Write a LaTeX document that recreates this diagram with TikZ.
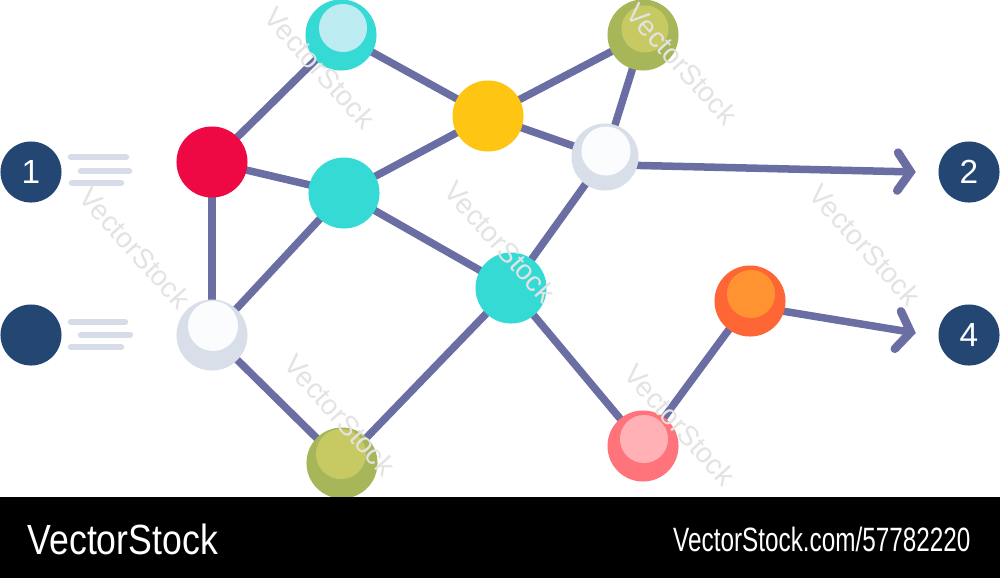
\documentclass[tikz,border=0pt]{standalone}
\usepackage{fontspec}
\setmainfont{Liberation Sans}
\usetikzlibrary{arrows.meta,calc}
\definecolor{navy}{HTML}{244673}
\definecolor{edgec}{HTML}{6A6EA3}
\definecolor{redc}{HTML}{EE0844}
\definecolor{tealc}{HTML}{36DAD5}
\definecolor{tealh}{HTML}{BDEBF2}
\definecolor{yellowc}{HTML}{FFC513}
\definecolor{olivec}{HTML}{A8B65A}
\definecolor{oliveh}{HTML}{C7CA63}
\definecolor{ringc}{HTML}{D8DFE9}
\definecolor{innerw}{HTML}{FAFCFD}
\definecolor{orangec}{HTML}{FF6636}
\definecolor{orangeh}{HTML}{FF9331}
\definecolor{pinkc}{HTML}{FF747B}
\definecolor{pinkh}{HTML}{FFB1B6}
\definecolor{dashc}{HTML}{D6DDE8}
\tikzset{
  ball/.style={circle, fill=#1, draw=none, minimum size=0.71cm, inner sep=0pt},
  numc/.style={circle, fill=navy, minimum size=0.61cm, inner sep=0pt, text=white, font=\fontsize{9.5}{10}\selectfont},
  link/.style={draw=edgec, line width=0.075cm},
  arr/.style={link, line cap=round, -{Straight Barb[length=0.13cm, width=0.38cm, line cap=round, line width=0.085cm]}},
  speed/.style={draw=dashc, line width=0.065cm, line cap=round},
  wm/.style={text=gray!22, font=\fontsize{8}{8}\selectfont, rotate=-48},
}
\begin{document}
\begin{tikzpicture}[x=0.01cm, y=-0.01cm]
\useasboundingbox (0,0) rectangle (1000,578);
\fill[white] (0,0) rectangle (1000,497);
% number circles
\node[numc] (n1) at (31,172) {1};
\node[numc] (n3) at (31,335) {};
\node[numc] (n2) at (969,172) {2};
\node[numc] (n4) at (969,335) {4};
% speed dashes
\draw[speed] (71,157) -- (126,157) (81,171) -- (129,171) (72,183) -- (121,183);
\draw[speed] (71,322) -- (125,322) (81,335) -- (130,335) (71,347) -- (121,347);
% node positions
\coordinate (rd) at (212,162);
\coordinate (tt) at (341,35);
\coordinate (tm) at (344,193);
\coordinate (yl) at (488,116);
\coordinate (ot) at (643,35);
\coordinate (wr) at (605,157);
\coordinate (wl) at (212,335);
\coordinate (tc) at (511,288);
\coordinate (or) at (750,301);
\coordinate (pk) at (643,446);
\coordinate (ob) at (342,463);
% links
\draw[link] (rd) -- (tt);
\draw[link] (rd) -- (tm);
\draw[link] (rd) -- (wl);
\draw[link] (tt) -- (yl);
\draw[link] (tm) -- (yl);
\draw[link] (tm) -- (wl);
\draw[link] (tm) -- (tc);
\draw[link] (yl) -- (ot);
\draw[link] (yl) -- (wr);
\draw[link] (ot) -- (wr);
\draw[link] (wr) -- (tc);
\draw[link] (wl) -- (ob);
\draw[link] (ob) -- (tc);
\draw[link] (tc) -- (pk);
\draw[link] (pk) -- (or);
\coordinate (a2s) at (620,165);
\coordinate (a4s) at (770,309);
\draw[arr] (a2s) -- ($(n2.west)+(-22,0)$);
\draw[arr] (a4s) -- ($(n4.west)+(-22,-2)$);
% balls
\node[ball=redc] (Rd) at (rd) {};
\node[ball=tealc] (Tt) at (tt) {};
\fill[tealh] (343,28) circle (0.24cm);
\node[ball=tealc] (Tm) at (tm) {};
\node[ball=yellowc] (Yl) at (yl) {};
\node[ball=olivec] (Ot) at (ot) {};
\fill[oliveh] (645,29) circle (0.235cm);
\node[ball=ringc, minimum size=0.67cm] (Wr) at (wr) {};
\fill[innerw] (606,151) circle (0.245cm);
\node[ball=ringc] (Wl) at (wl) {};
\fill[innerw] (213,326) circle (0.25cm);
\node[ball=tealc] (Tc) at (tc) {};
\node[ball=orangec] (Or) at (or) {};
\fill[orangeh] (751,294) circle (0.24cm);
\node[ball=pinkc] (Pk) at (pk) {};
\fill[pinkh] (644,439) circle (0.24cm);
\node[ball=olivec] (Ob) at (ob) {};
\fill[oliveh] (341,454) circle (0.25cm);
% watermarks
\node[wm] (w1) at (320,68) {VectorStock};
\node[wm] (w2) at (135,248) {VectorStock};
\node[wm] (w3) at (500,242) {VectorStock};
\node[wm] (w4) at (682,64) {VectorStock};
\node[wm] (w5) at (865,245) {VectorStock};
\node[wm] (w6) at (680,425) {VectorStock};
\node[wm] (w7) at (340,415) {VectorStock};
% bottom bar
\fill[black] (0,497) rectangle (1000,578);
\node[text=white, anchor=west, inner sep=0pt, font=\fontsize{12}{12}\selectfont, xscale=0.845] (b1) at (27,539) {VectorStock};
\node[text=white, anchor=east, inner sep=0pt, font=\fontsize{9.6}{10}\selectfont, xscale=0.72] (b2) at (971,539) {VectorStock.com/57782220};
\end{tikzpicture}
\end{document}
